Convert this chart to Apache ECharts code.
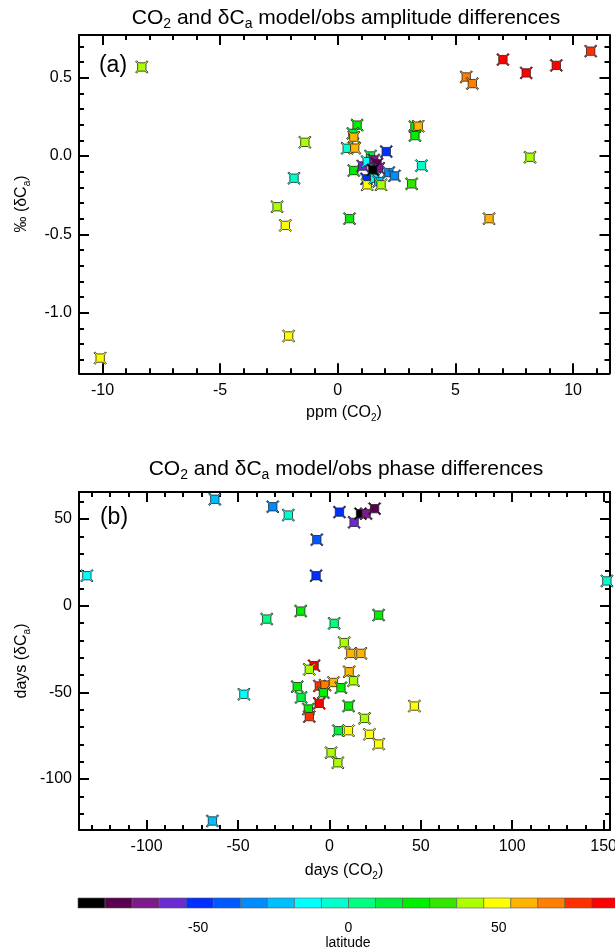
<!DOCTYPE html>
<html><head><meta charset="utf-8">
<script src="https://cdn.jsdelivr.net/npm/echarts@6/dist/echarts.min.js"></script>
<style>html,body{margin:0;padding:0;background:#fff}#c{width:615px;height:950px}</style>
</head><body><div id="c"></div>
<script>
// ---------- DATA ----------
// Panel (a): amplitude differences
const ampCO2 = [-8.33,-1.40,-1.86,-2.58,-2.23,-10.1,-2.09,0.50,6.43,10.75,7.02,8.01,9.29,5.46,5.72,8.17,3.56,3.14,0.82,0.64,0.68,0.40,0.72,3.28,3.42,3.28,2.06,0.68,1.06,1.39,1.25,1.53,1.67,1.74,2.17,2.41,1.22,1.25,1.57,1.74,1.84,1.49];
const ampDC  = [0.568,0.087,-0.142,-0.324,-0.443,-1.29,-1.149,-0.40,-0.40,0.669,0.615,0.53,0.578,0.504,0.462,-0.008,-0.062,-0.178,0.197,0.144,0.12,0.049,0.05,0.187,0.19,0.13,0.028,-0.093,-0.064,0.0,-0.036,-0.025,-0.05,-0.078,-0.106,-0.127,-0.146,-0.184,-0.142,-0.163,-0.184,-0.089];
const ampLat = [41,41,-4,41,50,50,50,23,59,77,86,86,86,68,68,41,-4,32,23,14,59,-4,59,23,59,23,-49,23,-58,14,-13,-67,-76,-67,-31,-31,-49,50,-13,-22,41,-85];

// Panel (b): phase differences
const phCO2 = [-132.7,-62.7,-31.0,-22.5,5.5,-6.9,-7.3,-15.7,-34.3,2.6,8.1,13.5,17.0,20.1,24.7,151.8,26.9,-64.0,-46.8,-8.4,-11.0,-17.6,-15.5,-11.5,-11.0,-5.5,-2.4,-3.3,-5.6,2.2,6.3,4.9,10.4,0.9,4.6,10.5,11.7,17.2,10.8,13.2,46.5,19.2,21.9,26.9];
const phDC  = [17.3,61.4,57.1,52.3,54.0,38.1,17.3,-3.1,-7.7,-10.2,-21.3,48.1,53.1,53.1,56.0,14.3,-5.4,-124.2,-51.1,-34.6,-36.7,-46.7,-52.9,-59.6,-64.0,-46.3,-45.8,-50.2,-56.3,-44.3,-47.3,-72.1,-72.1,-84.8,-90.6,-57.9,-27.5,-27.5,-38.1,-43.3,-57.9,-65.0,-74.2,-79.8];
const phLat = [-13,-22,-31,-4,-49,-40,-49,23,5,5,41,-58,-85,-67,-76,-4,23,-22,-13,86,41,23,14,23,77,77,68,23,86,59,23,14,50,41,41,23,59,59,59,41,50,41,50,50];

// Tick labels
const ampXTicks = [-10,-5,0,5,10];
const ampYTicks = [-1.0,-0.5,0.0,0.5];
const phXTicks = [-100,-50,0,50,100,150];
const phYTicks = [-100,-50,0,50];
const latTicks = [-50,0,50];

// Colour bar: 20 classes of 9 degrees from -90 to 90
const latEdges = [-90,-81,-72,-63,-54,-45,-36,-27,-18,-9,0,9,18,27,36,45,54,63,72,81,90];
const barColors = ['#000000','#5a0050','#7d1a8c','#6a2bd1','#0030ff','#0058ff','#008cff','#00bfff','#00ffff','#00ffcc',
                   '#00ff80','#00f040','#00ee00','#33e600','#aaff00','#ffff00','#ffb400','#ff8000','#ff3000','#ff0000'];

// ---------- helpers ----------
function latColor(lat){
  let i = Math.floor((lat - latEdges[0]) / 9);
  i = Math.max(0, Math.min(barColors.length - 1, i));
  return barColors[i];
}
function range(a, b, s){ const r=[]; const n=Math.round((b-a)/s); for(let k=0;k<=n;k++) r.push(+(a+k*s).toFixed(6)); return r; }

const FONT = 'Liberation Sans, Arial, Helvetica, sans-serif';
const MARK = 'path://M1,0 L3,2 L9,2 L11,0 L12,1 L10,3 L10,9 L12,11 L11,12 L9,10 L3,10 L1,12 L0,11 L2,9 L2,3 L0,1 Z';

function axis(gridIndex, pos, min, max, ticks, len, showLine, showLabel, fmt, margin){
  return {
    type:'value', gridIndex, position:pos, min, max, scale:true,
    axisLine:{show:showLine, onZero:false, lineStyle:{color:'#000', width:2}},
    axisTick:{show:true, inside:true, length:len, customValues:ticks, lineStyle:{color:'#000', width:2}},
    axisLabel:{show:showLabel, customValues:ticks, formatter:fmt, color:'#000', fontSize:16, fontFamily:FONT, margin:margin||8},
    splitLine:{show:false}, minorTick:{show:false}
  };
}

const A = {xmin:-11, xmax:11.55, ymin:-1.387, ymax:0.772};
const B = {xmin:-137, xmax:153.5, ymin:-129.4, ymax:65.6};
const fInt = v => String(Math.round(v));
const f1 = v => v.toFixed(1);

const xAxes = [
  axis(0,'bottom',A.xmin,A.xmax,ampXTicks,10,true,true,fInt,9),
  axis(0,'bottom',A.xmin,A.xmax,range(-11,11,1),5,false,false),
  axis(0,'top',A.xmin,A.xmax,ampXTicks,10,true,false),
  axis(0,'top',A.xmin,A.xmax,range(-11,11,1),5,false,false),
  axis(1,'bottom',B.xmin,B.xmax,phXTicks,10,true,true,fInt,9),
  axis(1,'bottom',B.xmin,B.xmax,range(-130,150,10),5,false,false),
  axis(1,'top',B.xmin,B.xmax,phXTicks,10,true,false),
  axis(1,'top',B.xmin,B.xmax,range(-130,150,10),5,false,false),
  {type:'value', gridIndex:2, position:'bottom', min:-90, max:90,
   axisLine:{show:false, onZero:false}, axisTick:{show:false}, splitLine:{show:false},
   axisLabel:{show:true, customValues:latTicks, formatter:fInt, color:'#000', fontSize:14, fontFamily:FONT, margin:13}}
];
const yAxes = [
  axis(0,'left',A.ymin,A.ymax,ampYTicks,10,true,true,f1,7),
  axis(0,'left',A.ymin,A.ymax,range(-1.3,0.7,0.1),5,false,false),
  axis(0,'right',A.ymin,A.ymax,ampYTicks,10,true,false),
  axis(0,'right',A.ymin,A.ymax,range(-1.3,0.7,0.1),5,false,false),
  axis(1,'left',B.ymin,B.ymax,phYTicks,10,true,true,fInt,7),
  axis(1,'left',B.ymin,B.ymax,range(-120,60,10),5,false,false),
  axis(1,'right',B.ymin,B.ymax,phYTicks,10,true,false),
  axis(1,'right',B.ymin,B.ymax,range(-120,60,10),5,false,false),
  {type:'value', gridIndex:2, min:0, max:1, show:false}
];

const dataA = ampCO2.map((x,i)=>[x, ampDC[i], ampLat[i]]);
const dataB = phCO2.map((x,i)=>[x, phDC[i], phLat[i]]);
const barData = barColors.map((c,i)=>[latEdges[i], latEdges[i+1], i]);

function scatter(xi, yi, data){
  return {type:'scatter', xAxisIndex:xi, yAxisIndex:yi, data, symbol:MARK, symbolSize:12.5, symbolKeepAspect:true,
    itemStyle:{color:p=>latColor(p.value[2]), borderColor:'#222', borderWidth:0.8, opacity:1},
    emphasis:{disabled:true}, silent:true, clip:false};
}

const rich = (fs) => ({
  m:{fontSize:fs, lineHeight:fs+5, fontFamily:FONT, fill:'#000', verticalAlign:'middle'},
  s:{fontSize:Math.round(fs*0.65), lineHeight:Math.round(fs*0.65), fontFamily:FONT, fill:'#000', verticalAlign:'bottom'}
});
function txt(x, y, text, fs, rot){
  return {type:'text', x, y, rotation:rot||0, silent:true,
    style:{text, rich:rich(fs), font: fs+'px '+FONT, fill:'#000', align:'center', verticalAlign:'middle'}};
}

const option = {
  backgroundColor:'#fff',
  animation:false,
  grid:[
    {left:79, top:35, width:530.5, height:338.3, outerBoundsMode:'none', containLabel:false},
    {left:79, top:492, width:531, height:338, outerBoundsMode:'none', containLabel:false},
    {left:78, top:898, width:541, height:10, outerBoundsMode:'none', containLabel:false}
  ],
  xAxis:xAxes, yAxis:yAxes,
  series:[
    scatter(0,0,dataA),
    scatter(4,4,dataB),
    {type:'custom', xAxisIndex:8, yAxisIndex:8, data:barData, silent:true, clip:false,
     renderItem:(params, api)=>{
       const p0 = api.coord([api.value(0), 1]);
       const p1 = api.coord([api.value(1), 0]);
       return {type:'rect', shape:{x:p0[0], y:p0[1], width:p1[0]-p0[0], height:p1[1]-p0[1]},
               style:{fill:barColors[api.value(2)], stroke:'#555', lineWidth:0.6}};
     }}
  ],
  graphic:[
    txt(346, 18, '{m|CO}{s|2}{m| and δC}{s|a}{m| model/obs amplitude differences}', 21),
    txt(346, 469, '{m|CO}{s|2}{m| and δC}{s|a}{m| model/obs phase differences}', 21),
    txt(344, 413, '{m|ppm (CO}{s|2}{m|)}', 16),
    txt(344, 871, '{m|days (CO}{s|2}{m|)}', 16),
    txt(22, 204, '{m|‰ (δC}{s|a}{m|)}', 16, Math.PI/2),
    txt(22, 661, '{m|days (δC}{s|a}{m|)}', 16, Math.PI/2),
    txt(113, 66, '{m|(a)}', 23),
    txt(114, 518, '{m|(b)}', 23),
    txt(348, 943, '{m|latitude}', 14)
  ]
};
const chart = echarts.init(document.getElementById('c'), null, {renderer:'canvas'});
chart.setOption(option);
</script></body></html>
